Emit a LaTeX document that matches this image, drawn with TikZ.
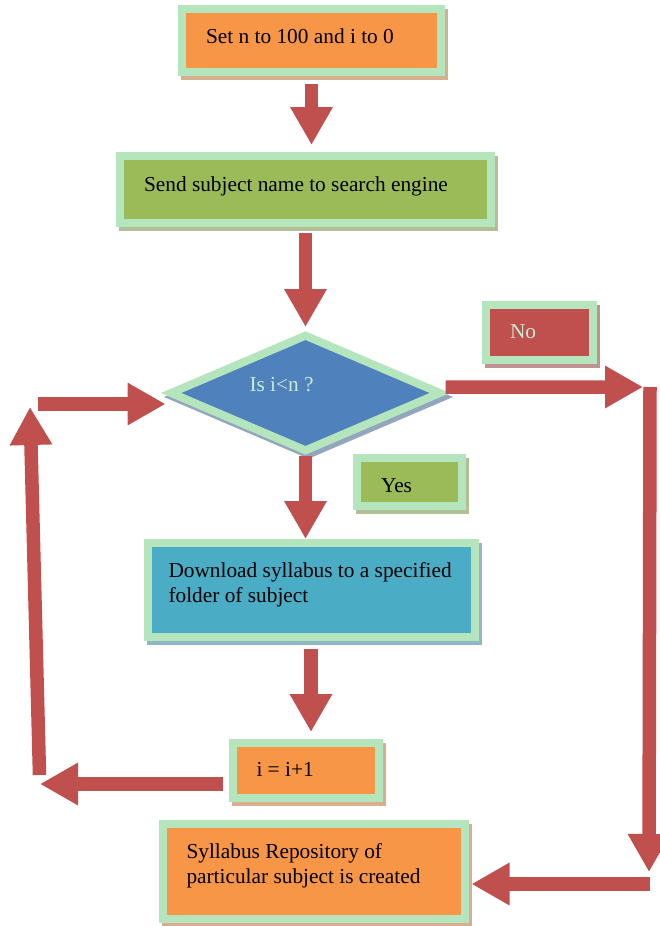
\documentclass[tikz,border=0pt]{standalone}
\usepackage{fontspec}
\setmainfont{Liberation Serif}
\usetikzlibrary{positioning, arrows.meta, calc, shapes.geometric, shadows}

\definecolor{edge}{HTML}{B4E5BC}
\definecolor{paleink}{HTML}{C9EBCF}
\definecolor{boxorange}{HTML}{F79646}
\definecolor{boxgreen}{HTML}{9BBB59}
\definecolor{boxblue}{HTML}{4F81BD}
\definecolor{boxteal}{HTML}{4BACC6}
\definecolor{boxred}{HTML}{C0504D}
\definecolor{flowred}{HTML}{C0504D}

\begin{document}
\begin{tikzpicture}[
  x=0.6pt, y=-0.6pt,
  every node/.style={font=\fontsize{12.8}{15}\selectfont},
  card/.style     = {rectangle, draw=edge, line width=4.8pt, align=flush left, inner xsep=14.4pt, inner ysep=0pt, text depth=0pt},
  lifted/.style   = {drop shadow={shadow xshift=1.8pt, shadow yshift=-2.4pt, opacity=1, fill=#1!40!lightgray, draw=#1!40!lightgray}},
  task/.style     = {card, fill=boxorange, lifted=boxorange},
  query/.style    = {card, fill=boxgreen,  lifted=boxgreen},
  fetch/.style    = {card, fill=boxteal,   lifted=boxteal},
  tag/.style      = {card, fill=boxred,    lifted=boxred, text=paleink},
  decision/.style = {diamond, aspect=2.3, draw=edge, line width=4.8pt, fill=boxblue, lifted=boxblue, text=paleink, align=flush left, minimum width=163.2pt, minimum height=70.8pt},
  flow/.style     = {-{Triangle[length=22.8pt, width=24pt]}, line width=8.1pt, flowred},
]
  \useasboundingbox (0,0) rectangle (659,926);
  % Main column, top to bottom.
  \node[task, text width=126.6pt, minimum height=37.8pt, text height=3pt] (set) at (311.5,40.5) {Set n to 100 and i to 0};
  \node[query, text width=193.8pt, minimum height=40.2pt, text height=1.8pt, below=45.6pt of set, xshift=-3.6pt] (send) {Send subject name to search engine};
  \node[decision, text width=67.2pt, text height=0pt, text depth=2.4pt, below=61.8pt of send] (cond) {Is i<n ?};
  \node[fetch, text width=171pt, inner xsep=12.6pt, minimum height=56.4pt, text height=0pt, text depth=15.6pt, below=49.8pt of cond, xshift=3.3pt] (load) {Download syllabus to a specified\\folder of subject};
  \node[task, text width=58.8pt, minimum height=33pt, text height=6.6pt, below=58.8pt of load, xshift=-3.3pt] (incr) {i = i+1};
  \node[task, text width=152.4pt, minimum height=57pt, text height=0pt, text depth=16.2pt, below=10.8pt of incr, xshift=4.8pt] (repo) {Syllabus Repository of\\particular subject is created};
  % Branch labels.
  \node[tag, text width=35.4pt, minimum height=33pt, text height=6.6pt] (no) at (539.5,332.5) {No};
  \node[query, text width=34.2pt, minimum height=28.8pt, text height=12pt] (yes) at (409.5,482) {Yes};
  % Turning points of the two loops.
  \coordinate (back1) at (40,784);
  \coordinate (back2) at (39.5,775);
  \coordinate (back3) at (30,407);
  \coordinate (back4) at (38,404);
  \coordinate (out1)  at (643,387);
  \coordinate (out2)  at (650,387);
  \coordinate (out3)  at (649,872);
  \coordinate (out4)  at (650,884);
  \foreach \a/\b/\s/\e in {set/send/4.8pt/4.2pt, send/cond/3.6pt/1.8pt,
                           cond/load/0pt/0pt, load/incr/4.8pt/4.2pt}
     \draw[flow, shorten <=\s, shorten >=\e] (\a.south) -- (\a.south |- \b.north);
  \draw[flow, shorten <=3.6pt] (incr.west |- back1) -- (back1);
  \draw[flow] (back2) -- (back3);
  \draw[flow] (back4) -- (back4 -| cond.west);
  \draw[flow] ([yshift=3.6pt]cond.east) -- (out1);
  \draw[flow] (out2) -- (out3);
  \draw[flow, shorten >=1.8pt] (out4) -- (out4 -| repo.east);
\end{tikzpicture}
\end{document}
